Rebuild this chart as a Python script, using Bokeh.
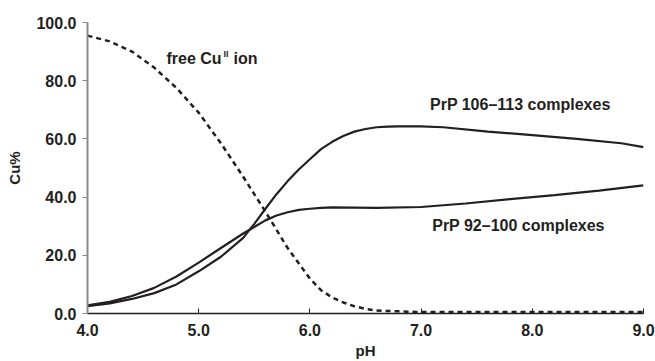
from bokeh.plotting import figure
from bokeh.models import NumeralTickFormatter, FixedTicker, Range1d
from bokeh.core.properties import value
from bokeh.embed import file_html
from bokeh.resources import INLINE

# pH grid and series
ph_free = [4.0, 4.2, 4.4, 4.6, 4.8, 5.0, 5.2, 5.4, 5.6, 5.8, 6.0, 6.1, 6.2, 6.3, 6.4, 6.5, 6.6, 7.0, 8.0, 9.0]
free_cu = [95.5, 93.5, 90.0, 84.5, 77.5, 69.0, 58.5, 47.0, 35.0, 22.5, 12.0, 8.0, 5.5, 3.8, 2.5, 1.6, 1.0, 0.5, 0.5, 0.5]

ph_106 = [4.0, 4.2, 4.4, 4.6, 4.8, 5.0, 5.2, 5.4, 5.5, 5.6, 5.7, 5.8, 5.9, 6.0, 6.1, 6.2, 6.3, 6.4, 6.5,
          6.6, 6.7, 6.8, 7.0, 7.2, 7.6, 8.0, 8.4, 8.8, 9.0]
prp_106 = [2.5, 3.5, 5.0, 7.0, 10.0, 14.5, 19.5, 26.0, 30.8, 36.0, 41.0, 45.5, 49.5, 53.0, 56.5, 59.0, 61.0, 62.5, 63.4,
           64.0, 64.2, 64.3, 64.3, 64.0, 62.5, 61.3, 60.0, 58.5, 57.2]

ph_92 = [4.0, 4.2, 4.4, 4.6, 4.8, 5.0, 5.2, 5.4, 5.6, 5.7, 5.8, 5.9, 6.0, 6.1, 6.2, 6.6, 7.0, 7.4, 7.8, 8.2, 8.6, 9.0]
prp_92 = [2.8, 4.0, 6.0, 8.8, 12.7, 17.5, 22.5, 27.5, 32.0, 33.7, 34.8, 35.6, 36.0, 36.3, 36.5, 36.3, 36.6, 37.8, 39.3, 40.7, 42.2, 44.0]

x_ticks = [4.0, 5.0, 6.0, 7.0, 8.0, 9.0]
y_ticks = [0, 20, 40, 60, 80, 100]

FONT = "Liberation Sans"
INK = "#231f20"

p = figure(width=655, height=361, output_backend="svg", toolbar_location=None,
           x_range=Range1d(4.0, 9.0), y_range=Range1d(0, 100),
           min_border_left=87, min_border_right=12, min_border_top=22, min_border_bottom=48)
p.outline_line_color = None
p.xgrid.grid_line_color = None
p.ygrid.grid_line_color = None
p.background_fill_color = "white"
p.border_fill_color = "white"

p.line(ph_free, free_cu, line_color=INK, line_width=2.5, line_dash="5 4")
p.line(ph_106, prp_106, line_color=INK, line_width=2.2)
p.line(ph_92, prp_92, line_color=INK, line_width=2.2)

# axes
xa = p.xaxis[0]
xa.ticker = FixedTicker(ticks=x_ticks)
xa.formatter = NumeralTickFormatter(format="0.0")
xa.axis_line_color = INK
xa.axis_line_width = 1.5
xa.major_tick_line_color = INK
xa.major_tick_in = 5
xa.major_tick_out = 0
xa.minor_tick_line_color = None
xa.major_label_text_font = FONT
xa.major_label_text_font_style = "bold"
xa.major_label_text_font_size = "16px"
xa.major_label_text_color = INK
xa.major_label_standoff = 10
xa.axis_label = "pH"
xa.axis_label_text_font = FONT
xa.axis_label_text_font_style = "bold"
xa.axis_label_text_font_size = "15px"
xa.axis_label_text_color = INK
xa.axis_label_standoff = 3

ya = p.yaxis[0]
ya.ticker = FixedTicker(ticks=y_ticks)
ya.formatter = NumeralTickFormatter(format="0.0")
ya.axis_line_color = "#8a8a8a"
ya.axis_line_width = 2
ya.major_tick_line_color = "#8a8a8a"
ya.major_tick_in = 0
ya.major_tick_out = 5
ya.minor_tick_line_color = None
ya.major_label_text_font = FONT
ya.major_label_text_font_style = "bold"
ya.major_label_text_font_size = "16px"
ya.major_label_text_color = INK
ya.major_label_standoff = 6
ya.axis_label = "Cu%"
ya.axis_label_text_font = FONT
ya.axis_label_text_font_style = "bold"
ya.axis_label_text_font_size = "15px"
ya.axis_label_text_color = INK
ya.axis_label_standoff = 10

# annotations
txt = dict(text_font=value(FONT), text_font_style="bold", text_color=INK,
           text_baseline="middle", text_align="left")
p.text(x=[4.71], y=[87.6], text=["free Cu"], text_font_size="16px", **txt)
p.text(x=[4.71], y=[87.6], text=["II"], text_font_size="9px", x_offset=57, y_offset=-5, **txt)
p.text(x=[4.71], y=[87.6], text=["ion"], text_font_size="16px", x_offset=67, **txt)
p.text(x=[7.08], y=[71.8], text=["PrP 106\u2013113 complexes"], text_font_size="16px", **txt)
p.text(x=[7.10], y=[30.2], text=["PrP 92\u2013100 complexes"], text_font_size="16px", **txt)

open("out.html", "w").write(file_html(p, INLINE))
